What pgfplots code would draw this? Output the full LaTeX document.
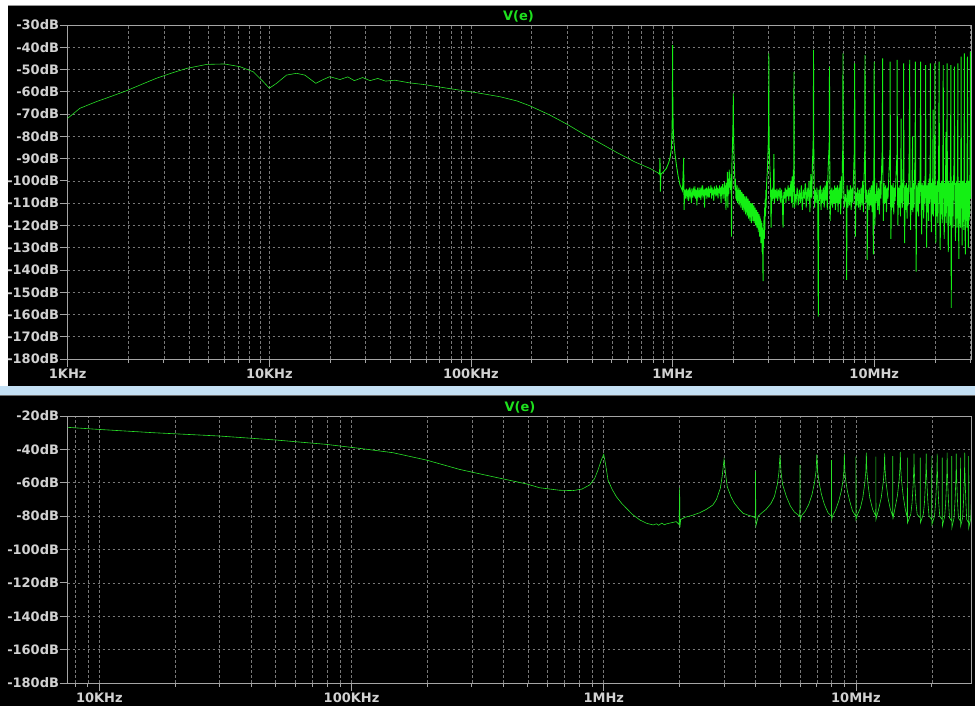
\documentclass[border=0pt]{standalone}
\usepackage{pgfplots}
\pgfplotsset{compat=1.18}
\usepackage{fontspec}
\setmainfont{DejaVu Sans}
\definecolor{trace}{RGB}{40,225,40}
\definecolor{noisec}{RGB}{20,240,20}
\definecolor{gridc}{RGB}{120,120,120}
\definecolor{framec}{RGB}{165,165,165}
\definecolor{labc}{RGB}{210,210,210}
\definecolor{sepc}{RGB}{196,224,244}
\definecolor{titc}{RGB}{30,225,30}
\definecolor{topline}{RGB}{150,150,150}
\definecolor{botline}{RGB}{110,110,110}
\pgfplotsset{ltstyle/.style={
  scale only axis, clip=true,
  grid=both,
  major grid style={gridc, dash pattern=on 2.5pt off 2.5pt, line width=0.6pt},
  minor grid style={gridc, dash pattern=on 2.5pt off 2.5pt, line width=0.6pt},
  axis line style={framec, line width=0.8pt},
  tick style={framec, line width=0.8pt},
  tick align=outside, tick pos=left,
  major tick length=8pt, minor tick length=4pt,
  ticklabel style={font=\fontsize{13}{15}\selectfont\bfseries, text=labc},
  yticklabel style={inner sep=0.5pt},
  xticklabel style={inner sep=1.5pt},
}}
\begin{document}
\begin{tikzpicture}[x=1pt,y=1pt]
\fill[white] (0,0) rectangle (975,706);
\fill[black] (8,320) rectangle (975,701);
\draw[topline, line width=0.8pt] (8,700.6) -- (975,700.6);
\fill[sepc] (0,311) rectangle (975,320);
\fill[black] (0,0) rectangle (975,311);
\draw[botline, line width=0.8pt] (0,310.3) -- (975,310.3);
\node[text=titc, font=\fontsize{13}{15}\selectfont\bfseries] at (518.5,690) {V(e)};
\node[text=titc, font=\fontsize{13}{15}\selectfont\bfseries] at (520,299) {V(e)};

\begin{axis}[xmode=log, ltstyle,
  at={(67.7pt,347pt)}, anchor=south west, width=903.3pt, height=334pt,
  xmin=0.001, xmax=30.2, ymin=-180, ymax=-30,
  xtick={0.001,0.01,0.1,1,10},
  xticklabels={1KHz,10KHz,100KHz,1MHz,10MHz},
  minor xtick={0.002,0.003,0.004,0.005,0.006,0.007,0.008,0.009,0.02,0.03,0.04,0.05,0.06,0.07,0.08,0.09,0.2,0.3,0.4,0.5,0.6,0.7,0.8,0.9,2,3,4,5,6,7,8,9,20,30},
  ytick={-180,-170,-160,-150,-140,-130,-120,-110,-100,-90,-80,-70,-60,-50,-40,-30},
  yticklabels={-180dB,-170dB,-160dB,-150dB,-140dB,-130dB,-120dB,-110dB,-100dB,-90dB,-80dB,-70dB,-60dB,-50dB,-40dB,-30dB},
]
\addplot[trace, line width=0.6pt] coordinates {
(0.001,-71.9) (0.00115,-67.4) (0.00139,-64.4) (0.00165,-62) (0.00196,-59.5) (0.00235,-56.5) (0.00276,-53.9) (0.0033,-51.5) (0.00389,-49.5) (0.00489,-47.7) (0.00597,-47.5) (0.00714,-48.7) (0.00832,-51) (0.00932,-55.4) (0.01,-58.4) (0.01086,-56.2) (0.01217,-52.5) (0.01364,-51.7) (0.015,-52.5) (0.017,-56.2) (0.0185,-54.5) (0.01995,-53.2) (0.0224,-54.5) (0.0245,-53.3) (0.0264,-55) (0.029,-53.6) (0.0316,-55) (0.0345,-54) (0.0377,-55.2) (0.0419,-54.8) (0.0497,-56) (0.0591,-56.8) (0.0788,-58.6) (0.105,-60.3) (0.139,-62.2) (0.169,-64.1) (0.196,-66.3) (0.247,-70.5) (0.3,-74.6) (0.359,-78.8) (0.436,-83) (0.53,-87.3) (0.65,-91.5) (0.772,-94.4) (0.85,-96.5)
};
\addplot[noisec, line width=0.9pt] coordinates {
(0.85,-96.5) (0.862,-97) (0.866,-89.7) (0.87,-104.8) (0.875,-97) (0.9,-96) (0.93,-94.5) (0.955,-92) (0.97,-90) (0.985,-86) (0.992,-80) (0.997,-70) (1.0,-39) (1.003,-68) (1.01,-80) (1.027,-87.5) (1.045,-93) (1.066,-98) (1.09,-102) (1.12,-104.5) (1.135,-89.7) (1.14,-113) (1.15,-104)
(1.16,-108) (1.17,-103.5) (1.18,-107) (1.19,-104) (1.2,-109) (1.21,-103) (1.22,-106.5) (1.23,-104.5) (1.24,-110) (1.25,-103.5) (1.26,-107.5) (1.27,-104) (1.28,-106) (1.29,-102.5) (1.3,-108) (1.31,-104) (1.32,-111) (1.33,-103) (1.34,-106.5) (1.35,-104.5) (1.36,-107.5) (1.37,-103) (1.38,-108.5) (1.39,-104) (1.4,-106) (1.41,-102) (1.42,-107) (1.43,-104) (1.44,-112) (1.45,-103.5) (1.46,-106.5) (1.47,-103) (1.48,-108) (1.49,-104.5) (1.5,-106) (1.51,-102.5) (1.52,-107.5) (1.53,-103.5) (1.54,-105.5) (1.55,-102) (1.56,-108) (1.57,-103) (1.58,-106.5) (1.59,-104) (1.6,-109) (1.61,-102.5) (1.62,-106) (1.63,-103.5) (1.64,-107) (1.65,-102) (1.66,-106.5) (1.67,-103) (1.68,-108) (1.69,-103.5) (1.7,-105.5) (1.71,-102) (1.72,-107) (1.73,-103) (1.74,-110) (1.75,-102.5) (1.76,-106) (1.77,-101.5) (1.78,-108) (1.79,-103) (1.8,-106) (1.81,-100.5) (1.82,-109) (1.83,-102) (1.84,-113) (1.85,-101) (1.86,-107) (1.87,-96) (1.88,-112) (1.89,-99) (1.9,-106) (1.91,-95) (1.92,-103) (1.93,-100) (1.94,-104) (1.95,-97) (1.96,-125) (1.97,-92) (1.98,-86) (1.99,-78) (1.997,-70)
(2.0,-60.7) (2.003,-72) (2.01,-82) (2.02,-90) (2.03,-96) (2.04,-104) (2.05,-99) (2.06,-108) (2.07,-103) (2.08,-109) (2.09,-102) (2.1,-110) (2.11,-104) (2.12,-109) (2.13,-103) (2.14,-111) (2.15,-104) (2.16,-110) (2.17,-104) (2.18,-112) (2.19,-105) (2.2,-111) (2.21,-105) (2.22,-113) (2.23,-106) (2.24,-112) (2.25,-106) (2.26,-114) (2.27,-107) (2.28,-112) (2.29,-107) (2.3,-115) (2.31,-108) (2.32,-113) (2.33,-107) (2.34,-116) (2.35,-108) (2.36,-114) (2.37,-108) (2.38,-117) (2.39,-109) (2.4,-115) (2.41,-109) (2.42,-118) (2.43,-110) (2.44,-115) (2.45,-110) (2.46,-119) (2.47,-111) (2.48,-116) (2.49,-110) (2.5,-118) (2.51,-111) (2.52,-117) (2.53,-111) (2.54,-119) (2.55,-112) (2.56,-118) (2.57,-112) (2.58,-120) (2.59,-113) (2.6,-119) (2.61,-113) (2.62,-121) (2.63,-114) (2.64,-120) (2.65,-114) (2.66,-123) (2.67,-115) (2.68,-121) (2.69,-115) (2.7,-125) (2.71,-116) (2.72,-123) (2.73,-117) (2.74,-128) (2.75,-118) (2.76,-126) (2.77,-119) (2.78,-132) (2.79,-121) (2.8,-135) (2.81,-145) (2.82,-122) (2.83,-130) (2.84,-116) (2.85,-126) (2.86,-112) (2.87,-122) (2.88,-108) (2.89,-116) (2.9,-104) (2.91,-112) (2.93,-100) (2.95,-96) (2.97,-88) (2.985,-82) (2.995,-70) (3.0,-42.7) (3.005,-70) (3.015,-84) (3.03,-92) (3.06,-101)
(3.08,-121) (3.1,-104) (3.12,-109) (3.14,-103) (3.16,-108) (3.18,-88) (3.2,-110) (3.23,-104) (3.26,-108) (3.29,-103.5) (3.32,-109) (3.35,-104) (3.38,-107) (3.41,-103) (3.44,-110) (3.47,-104) (3.5,-108) (3.53,-121) (3.56,-105) (3.59,-108) (3.62,-103) (3.65,-110) (3.68,-104) (3.71,-107) (3.74,-102) (3.77,-109) (3.8,-103) (3.83,-107) (3.86,-100) (3.89,-110) (3.92,-98) (3.95,-112) (3.97,-95) (3.99,-104) (4.0,-51) (4.01,-100) (4.03,-112) (4.06,-106)
(4.1,-109) (4.15,-103) (4.2,-111) (4.25,-104) (4.3,-110) (4.35,-102) (4.4,-113) (4.45,-104) (4.5,-108) (4.55,-101) (4.6,-112) (4.65,-103) (4.7,-109) (4.75,-100) (4.8,-114) (4.85,-97) (4.9,-108) (4.94,-92) (4.97,-85) (4.99,-80) (5.0,-41.2) (5.01,-82) (5.03,-95) (5.06,-112) (5.1,-104) (5.15,-110) (5.2,-103) (5.25,-111) (5.28,-161) (5.31,-104) (5.35,-109) (5.4,-102) (5.45,-113) (5.5,-104) (5.55,-110) (5.6,-103) (5.65,-112) (5.7,-102) (5.75,-109) (5.8,-100) (5.85,-113) (5.9,-96) (5.95,-88) (5.98,-84) (6.0,-48.7) (6.02,-90) (6.05,-118) (6.08,-104) (6.12,-111) (6.17,-103) (6.22,-112) (6.27,-104) (6.32,-110) (6.37,-102) (6.42,-113) (6.47,-103) (6.52,-110) (6.57,-102) (6.62,-114) (6.67,-103) (6.72,-110) (6.77,-100) (6.82,-115) (6.87,-98) (6.92,-108) (6.96,-90) (6.99,-84) (7.0,-42.7) (7.02,-86) (7.05,-100) (7.1,-112) (7.2,-106) (7.27,-110) (7.3,-144.5) (7.34,-102) (7.41,-112) (7.48,-104) (7.55,-111) (7.62,-102) (7.69,-113) (7.76,-103) (7.83,-110) (7.9,-97) (7.96,-88) (8.0,-47.2) (8.03,-92) (8.07,-125) (8.12,-105) (8.2,-111) (8.28,-103) (8.36,-112) (8.44,-104) (8.52,-113) (8.6,-103) (8.68,-111) (8.76,-100) (8.84,-114) (8.92,-96) (8.97,-87) (9.0,-43.5) (9.03,-90) (9.08,-110) (9.13,-104) (9.2,-106) (9.23,-135.5) (9.28,-112) (9.36,-104) (9.44,-113) (9.52,-103) (9.6,-111) (9.68,-102) (9.76,-114) (9.84,-100) (9.9,-133) (9.94,-104) (9.97,-90) (10.0,-46.5) (10.03,-95) (10.08,-120) (10.14,-106)
(10.2,-110) (10.3,-101) (10.4,-113) (10.5,-103) (10.6,-115) (10.7,-100) (10.8,-108) (10.9,-92) (10.97,-86) (11.0,-45) (11.03,-90) (11.1,-118) (11.2,-101) (11.3,-110) (11.4,-102) (11.5,-114) (11.6,-103) (11.7,-108) (11.85,-95) (11.97,-86) (12.0,-46.5) (12.03,-92) (12.1,-126) (12.2,-102) (12.3,-112) (12.4,-101) (12.5,-115) (12.6,-103) (12.7,-109) (12.85,-96) (12.97,-88) (13.0,-45.7) (13.03,-94) (13.1,-120) (13.2,-103) (13.3,-112) (13.4,-102) (13.5,-116) (13.6,-72) (13.65,-110) (13.7,-101) (13.8,-112) (13.9,-97) (13.97,-90) (14.0,-47.2) (14.03,-95) (14.15,-128) (14.25,-102) (14.35,-113) (14.45,-101) (14.55,-117) (14.65,-103) (14.75,-111) (14.9,-93) (15.0,-45.7) (15.04,-96) (15.15,-122) (15.25,-103) (15.35,-113) (15.5,-80) (15.55,-114) (15.65,-101) (15.75,-112) (15.85,-97) (15.95,-90) (16.0,-46.5) (16.05,-97) (16.15,-140.8) (16.25,-102) (16.35,-114) (16.5,-101) (16.6,-116) (16.7,-100) (16.8,-110) (16.9,-93) (17.0,-46.5) (17.05,-98) (17.2,-124) (17.3,-101) (17.4,-113) (17.5,-102) (17.6,-117) (17.7,-100) (17.8,-110) (17.95,-92) (18.0,-48) (18.05,-100) (18.2,-130) (18.3,-102) (18.4,-114) (18.5,-101) (18.6,-118) (18.7,-99) (18.8,-110) (18.95,-90) (19.0,-47.2) (19.05,-99) (19.2,-123) (19.3,-101) (19.45,-115) (19.6,-68) (19.65,-116) (19.75,-100) (19.85,-110) (19.93,-94) (20.0,-47.2) (20.05,-100) (20.2,-128) (20.3,-102) (20.45,-116) (20.55,-100) (20.7,-119) (20.85,-95) (21.0,-46.5) (21.05,-98) (21.25,-131) (21.35,-101) (21.5,-115) (21.6,-100) (21.75,-119) (21.9,-94) (22.0,-48) (22.05,-100) (22.25,-126) (22.35,-101) (22.5,-116) (22.7,-78) (22.75,-119) (22.9,-94) (23.0,-47.2) (23.05,-99) (23.3,-132) (23.4,-100) (23.5,-116) (23.65,-101) (23.75,-120) (23.9,-93) (24.0,-48) (24.1,-157) (24.2,-101) (24.3,-116) (24.45,-100) (24.55,-121) (24.8,-96) (24.9,-91) (25.0,-48.7) (25.05,-99) (25.3,-127) (25.4,-101) (25.55,-117) (25.65,-100) (25.75,-121) (25.9,-92) (26.0,-47.2) (26.05,-101) (26.3,-135) (26.4,-101) (26.55,-117) (26.65,-100) (26.75,-121) (26.9,-93) (27.0,-44.2) (27.05,-100) (27.3,-129) (27.45,-100) (27.55,-118) (27.7,-100) (27.8,-122) (27.9,-92) (28.0,-42.7) (28.1,-100) (28.3,-133) (28.45,-101) (28.55,-118) (28.7,-100) (28.8,-121) (28.9,-91) (29.0,-44.2) (29.1,-101) (29.3,-130) (29.4,-100) (29.5,-118) (29.7,-115) (29.8,-99) (29.9,-95) (30.0,-42) (30.1,-108)
};
\end{axis}

\begin{axis}[xmode=log, ltstyle,
  at={(67.7pt,23pt)}, anchor=south west, width=903.3pt, height=267pt,
  xmin=0.00749, xmax=28.6, ymin=-180, ymax=-20,
  xtick={0.01,0.1,1,10},
  xticklabels={10KHz,100KHz,1MHz,10MHz},
  minor xtick={0.008,0.009,0.02,0.03,0.04,0.05,0.06,0.07,0.08,0.09,0.2,0.3,0.4,0.5,0.6,0.7,0.8,0.9,2,3,4,5,6,7,8,9,20},
  ytick={-180,-160,-140,-120,-100,-80,-60,-40,-20},
  yticklabels={-180dB,-160dB,-140dB,-120dB,-100dB,-80dB,-60dB,-40dB,-20dB},
]
\addplot[trace, line width=0.6pt] coordinates {
(0.0075,-26.8) (0.00984,-28) (0.0163,-30) (0.0299,-32) (0.0502,-34.4) (0.0794,-37) (0.1076,-39.4) (0.146,-42) (0.198,-46.4) (0.268,-52) (0.364,-56.4) (0.494,-60.7) (0.557,-63) (0.668,-64.5) (0.755,-64.7) (0.82,-63.8) (0.88,-61.3) (0.92,-57.5) (0.949,-52.4) (0.975,-47) (1.0,-43) (1.02,-50) (1.04,-58.4) (1.08,-64) (1.123,-68.4) (1.18,-72.5) (1.23,-75.3) (1.3,-79) (1.39,-82.3) (1.48,-84.3) (1.57,-85.3) (1.62,-84.6) (1.65,-85.5) (1.7,-84.2) (1.74,-85.2) (1.77,-84.7) (1.85,-84) (1.94,-83.3) (1.99,-85) (2.0,-63) (2.005,-86.7) (2.02,-82) (2.1,-80.7) (2.25,-79.5) (2.4,-78) (2.55,-76) (2.71,-73.3) (2.8,-70) (2.9,-63.3) (2.95,-56) (3.0,-46) (3.05,-56) (3.09,-62.4) (3.2,-68.5) (3.3,-72.3) (3.45,-76) (3.57,-78.3) (3.75,-79.5) (3.91,-80.3) (3.99,-81) (4.0,-53) (4.01,-86) (4.1,-80)
(4.2,-78.5) (4.4,-76) (4.6,-72.5) (4.75,-68.3) (4.88,-61) (4.95,-54) (5.0,-43.4) (5.05,-54) (5.12,-61) (5.3,-68.3) (5.5,-74) (5.7,-77.5) (5.9,-79.3) (5.99,-80) (6.0,-49.4) (6.01,-82.4) (6.1,-79.5)
(6.3,-77) (6.5,-73) (6.7,-67) (6.85,-60) (6.95,-53) (7.0,-43) (7.05,-53) (7.15,-60) (7.3,-67) (7.5,-73) (7.75,-78) (7.99,-80) (8.0,-46.4) (8.01,-82) (8.1,-79.5)
(8.3,-76.5) (8.55,-71) (8.75,-65) (8.9,-58) (8.96,-53) (9.0,-42.6) (9.04,-53) (9.1,-58) (9.25,-65) (9.45,-71) (9.7,-77) (9.99,-80) (10.0,-44.4) (10.01,-82) (10.15,-79)
(10.4,-75.5) (10.65,-69) (10.85,-60) (10.95,-53) (11.0,-42) (11.05,-53) (11.15,-60) (11.35,-69) (11.65,-76) (11.99,-80) (12.0,-44.4) (12.01,-82)
(12.3,-76) (12.6,-69) (12.85,-59) (12.95,-52) (13.0,-42.4) (13.05,-52) (13.15,-59) (13.4,-69) (13.7,-76) (13.99,-80) (14.0,-44) (14.01,-82)
(14.3,-75) (14.6,-68) (14.85,-58) (14.95,-51) (15.0,-41.5) (15.05,-51) (15.15,-58) (15.4,-68) (15.7,-76) (15.98,-81) (16.0,-45) (16.02,-84)
(16.5,-79) (16.7,-72) (16.88,-60) (16.96,-52) (17.0,-42.5) (17.04,-52) (17.12,-60) (17.3,-72) (17.5,-79) (17.98,-81) (18.0,-45) (18.02,-84) (18.5,-79) (18.7,-72) (18.88,-60) (18.96,-52) (19.0,-42.5) (19.04,-52) (19.12,-60) (19.3,-72) (19.5,-80) (19.98,-82) (20.0,-44) (20.02,-85) (20.5,-80) (20.7,-72) (20.88,-60) (20.96,-52) (21.0,-42.5) (21.04,-52) (21.12,-60) (21.3,-72) (21.5,-80) (21.98,-82) (22.0,-45) (22.02,-86) (22.5,-80) (22.7,-72) (22.88,-60) (22.96,-52) (23.0,-42) (23.04,-52) (23.12,-60) (23.3,-72) (23.5,-81) (23.98,-83) (24.0,-44) (24.02,-87) (24.5,-81) (24.7,-72) (24.88,-60) (24.96,-52) (25.0,-42.5) (25.04,-52) (25.12,-60) (25.3,-72) (25.5,-81) (25.98,-83) (26.0,-45) (26.02,-86) (26.5,-81) (26.7,-72) (26.88,-60) (26.96,-52) (27.0,-42) (27.04,-52) (27.12,-60) (27.3,-72) (27.5,-82) (27.98,-84) (28.0,-44) (28.02,-87) (28.5,-82) (28.7,-72) (28.88,-60) (28.96,-52) (29.0,-42)
};
\end{axis}
\pgfresetboundingbox
\path[use as bounding box] (0,0) rectangle (975,706);
\end{tikzpicture}
\end{document}
